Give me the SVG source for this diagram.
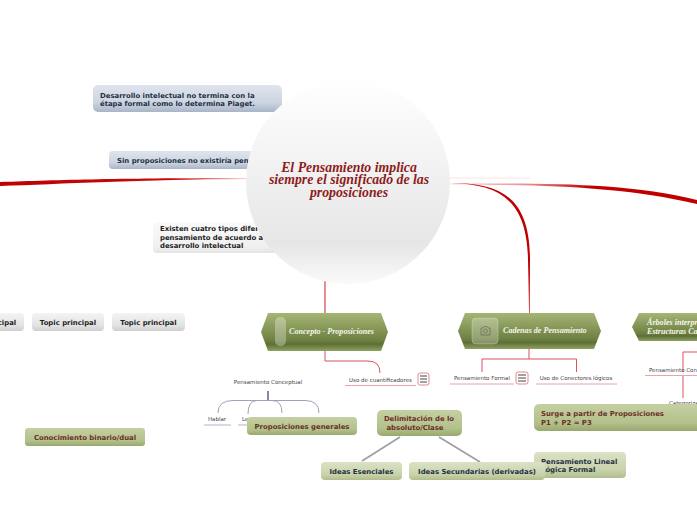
<svg xmlns="http://www.w3.org/2000/svg" width="697" height="520" viewBox="0 0 697 520">
<defs>
<linearGradient id="blue" x1="0" y1="0" x2="0" y2="1"><stop offset="0" stop-color="#dfe5ee"/><stop offset=".65" stop-color="#ccd4e0"/><stop offset="1" stop-color="#a9b5c7"/></linearGradient>
<linearGradient id="grey" x1="0" y1="0" x2="0" y2="1"><stop offset="0" stop-color="#f4f4f4"/><stop offset=".7" stop-color="#e2e2e2"/><stop offset="1" stop-color="#cfcfcf"/></linearGradient>
<linearGradient id="pale" x1="0" y1="0" x2="0" y2="1"><stop offset="0" stop-color="#fafafa"/><stop offset=".8" stop-color="#f0f0f0"/><stop offset="1" stop-color="#e4e4e4"/></linearGradient>
<linearGradient id="olive" x1="0" y1="0" x2="0" y2="1"><stop offset="0" stop-color="#c5d0a2"/><stop offset=".7" stop-color="#b3c18b"/><stop offset="1" stop-color="#98a96f"/></linearGradient>
<linearGradient id="sage" x1="0" y1="0" x2="0" y2="1"><stop offset="0" stop-color="#dbe2c5"/><stop offset=".7" stop-color="#c8d2aa"/><stop offset="1" stop-color="#b1bd8d"/></linearGradient>
<linearGradient id="hex" x1="0" y1="0" x2="0" y2="1"><stop offset="0" stop-color="#a4b574"/><stop offset=".72" stop-color="#6f8142"/><stop offset=".82" stop-color="#5d6f34"/><stop offset="1" stop-color="#8fa262"/></linearGradient>
<linearGradient id="disc" x1="0" y1="0" x2="0" y2="1"><stop offset="0" stop-color="#ffffff"/><stop offset=".8" stop-color="#e6e6e6"/><stop offset="1" stop-color="#fafafa"/></linearGradient>
<linearGradient id="fadeL" gradientUnits="userSpaceOnUse" x1="0" y1="0" x2="250" y2="0"><stop offset="0" stop-color="#c00000"/><stop offset=".68" stop-color="#c80808"/><stop offset="1" stop-color="#fbdcdc"/></linearGradient>
<linearGradient id="fadeR" gradientUnits="userSpaceOnUse" x1="450" y1="0" x2="650" y2="0"><stop offset="0" stop-color="#fbe0e0"/><stop offset=".4" stop-color="#e88a8a"/><stop offset=".7" stop-color="#c00000"/></linearGradient>
<linearGradient id="fadeD" gradientUnits="userSpaceOnUse" x1="0" y1="184" x2="0" y2="313"><stop offset="0" stop-color="#c00000"/><stop offset=".6" stop-color="#c00000"/><stop offset="1" stop-color="#e06060"/></linearGradient>
</defs>
<style>
text{font-family:"DejaVu Sans",Verdana,sans-serif}
.b{font-weight:700;font-size:6.9px}
.navy{fill:#1f2f45}
.dark{fill:#222}
.maroon{fill:#6b2f28}
.small{font-size:5.5px;fill:#444}
.hl{font-family:"Liberation Serif",serif;font-style:italic;font-weight:700;font-size:8.1px;fill:#f4f6ea}
.title{font-family:"Liberation Serif",serif;font-style:italic;font-weight:700;font-size:13.8px;fill:#8c1c20}
.red{fill:none;stroke:#d9535a;stroke-width:1}
.under{fill:none;stroke:#e8a4a8;stroke-width:1}
.purple{fill:none;stroke:#a89bbc;stroke-width:1}
.grey{fill:none;stroke:#a0a0a0;stroke-width:1.800}
.icon{fill:#fff;stroke:#e08a8a;stroke-width:1}
.bars{stroke:#444;stroke-width:1}
</style>
<g id="connectors">
<path d="M0 182C60 180 120 178 250 178L250 179C140 179.500 60 184 0 186Z" fill="url(#fadeL)"/>
<path d="M450 183.500C540 183.500 625 182 697 200L697 204C620 186 540 185 450 184.500Z" fill="url(#fadeR)"/>
<path d="M450 178H530" stroke="#fbe3e3" stroke-width="1" fill="none"/>
<path d="M450 183C500 184 527 200 528 260L529 313L530 313L530 260C530 196 500 183 450 183Z" fill="url(#fadeD)"/>
<path d="M325 279V313" stroke="#d9404a" stroke-width="1.2" fill="none"/>
<path class="red" d="M325 351V361H368Q380 361 380 373"/>
<path class="under" d="M345 385.500H416"/>
<path class="red" d="M529 349V359M482 372V359H576.500V372"/>
<path class="under" d="M450 384H514M536 384H617"/>
<path class="red" d="M683 372V352H697"/>
<path class="red" d="M683 376V398"/>
<path class="under" d="M645 375.500H697"/>
<path d="M268 391V401" stroke="#5e4a85" stroke-width="1.400" fill="none"/>
<path class="purple" d="M268 400.500H233Q218 400.500 218 413M268 400.500H257Q248 400.500 248 414M268 400.500H272Q282 400.500 282 413M268 400.500H305Q319 400.500 319 413"/>
<path class="under" style="stroke:#b9aecb" d="M204 425H231M238 425H262"/>
<path class="grey" d="M400 437L362 461M439 437L480 462"/>
</g>
<g id="n-desarrollo"><rect x="93" y="85" width="189" height="27" rx="5" fill="url(#blue)"/><text class="b navy" x="100" y="98">Desarrollo intelectual no termina con la</text><text class="b navy" x="100" y="106">étapa formal como lo determina Piaget.</text></g>
<g id="n-sin"><rect x="109" y="151" width="145" height="18" rx="4" fill="url(#blue)"/><text class="b navy" x="117" y="163">Sin proposiciones no existiría pen</text></g>
<g id="n-existen"><rect x="153" y="222" width="130" height="31" rx="4" fill="url(#pale)"/><text class="b dark" x="160" y="231">Existen cuatro tipos difer</text><text class="b dark" x="160" y="240">pensamiento de acuerdo a</text><text class="b dark" x="160" y="248">desarrollo intelectual</text></g>
<g id="n-center"><circle cx="348" cy="182" r="102" fill="url(#disc)"/><text class="title" x="349" y="172" text-anchor="middle">El Pensamiento  implica</text><text class="title" x="349" y="184" text-anchor="middle">siempre el significado de las</text><text class="title" x="349" y="197" text-anchor="middle">proposiciones</text></g>
<g id="n-topic1"><rect x="-40" y="313" width="64" height="18" rx="4" fill="url(#grey)"/><text class="b dark" x="-12" y="325" text-anchor="middle">Topic principal</text></g>
<g id="n-topic2"><rect x="32" y="313" width="72" height="18" rx="4" fill="url(#grey)"/><text class="b dark" x="68" y="325" text-anchor="middle">Topic principal</text></g>
<g id="n-topic3"><rect x="112" y="313" width="73" height="18" rx="4" fill="url(#grey)"/><text class="b dark" x="148.500" y="325" text-anchor="middle">Topic principal</text></g>
<g id="n-conocimiento"><rect x="25" y="428" width="120" height="18" rx="3" fill="url(#olive)"/><text class="b maroon" x="85" y="440" text-anchor="middle">Conocimiento binario/dual</text></g>
<g id="n-concepto"><path d="M261 332L268 313H381L388 332L381 351H268Z" fill="url(#hex)"/><rect x="275" y="317" width="11" height="29" rx="5" fill="#fff" fill-opacity=".3"/><text class="hl" x="289" y="334">Concepto - Proposiciones</text></g>
<g id="n-cadenas"><path d="M458 331L465 313H594L601 331L594 349H465Z" fill="url(#hex)"/><rect x="472" y="318" width="26" height="26" rx="4" fill="#fff" fill-opacity=".25" stroke="#fff" stroke-opacity=".25"/><path d="M481 328H483L484 326.500H487L488 328H490V335H481Z" fill="none" stroke="#6a7560" stroke-width=".8"/><circle cx="485.500" cy="331" r="2" fill="none" stroke="#6a7560" stroke-width=".8"/><text class="hl" x="503" y="333">Cadenas de Pensamiento</text></g>
<g id="n-arboles"><path d="M632 327L639 313H697V341H639Z" fill="url(#hex)"/><text class="hl" x="647" y="325">Árboles interpretativos</text><text class="hl" x="647" y="334">Estructuras Causales</text></g>
<g id="n-conceptual"><text class="small" x="268" y="384" text-anchor="middle">Pensamiento Conceptual</text></g>
<g id="n-hablar"><text class="small" x="217" y="421" text-anchor="middle">Hablar</text></g>
<g id="n-leer"><text class="small" x="242" y="421">Leer</text></g>
<g id="n-cuant"><text class="small" x="380.500" y="382" text-anchor="middle">Uso de cuantificadores</text><rect x="418" y="373" width="11" height="12" rx="2" class="icon"/><path class="bars" d="M420 376H427M420 379H427M420 382H427"/></g>
<g id="n-formal"><text class="small" x="482" y="380" text-anchor="middle">Pensamiento Formal</text><rect x="516" y="372" width="12" height="12" rx="2" class="icon"/><path class="bars" d="M518 375H526M518 378H526M518 381H526"/></g>
<g id="n-conectores"><text class="small" x="576" y="380" text-anchor="middle">Uso de Conectores lógicos</text></g>
<g id="n-conc2"><text class="small" x="649" y="372">Pensamiento Con</text></g>
<g id="n-categ"><text class="small" x="669" y="405">Categorización</text></g>
<g id="n-generales"><rect x="247" y="417" width="110" height="18" rx="4" fill="url(#olive)"/><text class="b maroon" x="302" y="429" text-anchor="middle">Proposiciones generales</text></g>
<g id="n-delim"><rect x="377" y="410" width="85" height="26" rx="5" fill="url(#olive)"/><text class="b maroon" x="419" y="421" text-anchor="middle">Delimitación de lo</text><text class="b maroon" x="415" y="430" text-anchor="middle">absoluto/Clase</text></g>
<g id="n-surge"><rect x="534" y="404" width="170" height="27" rx="5" fill="url(#olive)"/><text class="b maroon" x="541" y="416">Surge a partir de Proposiciones</text><text class="b maroon" x="541" y="425">P1 + P2 = P3</text></g>
<g id="n-lineal"><rect x="534" y="452" width="92" height="26" rx="4" fill="url(#sage)"/><text class="b navy" x="541" y="464">Pensamiento Lineal</text><text class="b navy" x="541" y="472">Lógica Formal</text></g>
<g id="n-esenciales"><rect x="321" y="462" width="81" height="18" rx="4" fill="url(#sage)"/><text class="b navy" x="361.500" y="474" text-anchor="middle">Ideas Esenciales</text></g>
<g id="n-secundarias"><rect x="409" y="462" width="136" height="18" rx="4" fill="url(#sage)"/><text class="b navy" x="477" y="474" text-anchor="middle">Ideas Secundarias (derivadas)</text></g>
</svg>
